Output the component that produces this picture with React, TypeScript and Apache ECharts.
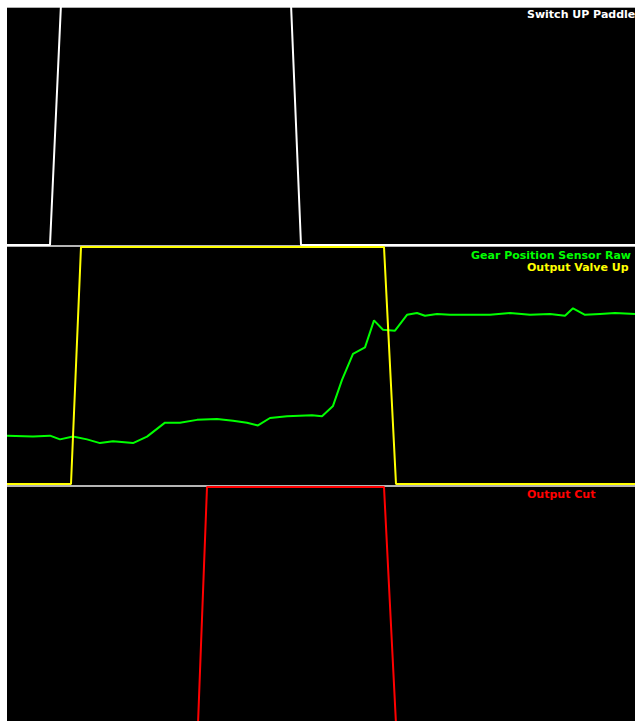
import React, { useEffect, useRef } from "react";
import * as echarts from "echarts";

// Time axis (ms from start of the capture window)
const timeRange = [0, 628];

// Switch UP Paddle (digital 0/1)
const paddleTimes = [0, 43, 54, 284, 294, 628];
const paddleValues = [0, 0, 1, 1, 0, 0];

// Output Valve Up (digital 0/1)
const valveTimes = [0, 64, 74, 377, 389, 628];
const valveValues = [0, 0, 1, 1, 0, 0];

// Output Cut (digital 0/1)
const cutTimes = [0, 191, 200, 377, 389, 628];
const cutValues = [0, 0, 1, 1, 0, 0];

// Gear Position Sensor Raw (raw counts, 0..255)
const gearTimes = [
  0, 26, 43, 53, 66, 80, 93, 106, 126, 140, 158, 173, 190, 210, 226, 240, 251,
  263, 280, 305, 315, 326, 335, 346, 358, 367, 376, 388, 400, 410, 418, 430,
  443, 463, 483, 503, 523, 543, 558, 566, 578, 593, 608, 628,
];
const gearValues = [
  52, 51, 52, 48, 51, 48, 44, 46, 44, 51, 66, 66, 69, 70, 68, 66, 63, 71, 73,
  74, 73, 84, 112, 140, 147, 176, 166, 165, 182, 184, 181, 183, 182, 182, 182,
  184, 182, 183, 181, 189, 182, 183, 184, 183,
];

const labels = [
  "Switch UP Paddle",
  "Gear Position Sensor Raw",
  "Output Valve Up",
  "Output Cut",
];

const pair = (ts: number[], vs: number[]) => ts.map((t, i) => [t, vs[i]]);

export default function App() {
  const ref = useRef<HTMLDivElement>(null);
  useEffect(() => {
    if (!ref.current) return;
    const chart = echarts.init(ref.current, undefined, { renderer: "svg" });
    const font = {
      fontFamily: "DejaVu Sans",
      fontWeight: "bold" as const,
      fontSize: 11,
      lineHeight: 11,
    };
    const hiddenX = (gi: number) => ({
      type: "value" as const,
      gridIndex: gi,
      min: timeRange[0],
      max: timeRange[1],
      show: false,
    });
    chart.setOption({
      animation: false,
      backgroundColor: "#000000",
      grid: [
        { left: 0, right: 0, top: 0, height: 238 },
        { left: 0, right: 0, top: 240, height: 237 },
        { left: 0, right: 0, top: 480, height: 234 },
      ],
      xAxis: [hiddenX(0), hiddenX(1), hiddenX(2)],
      yAxis: [
        { type: "value", gridIndex: 0, min: 0, max: 238 / 241, show: false },
        { type: "value", gridIndex: 1, min: 0, max: 1, show: false },
        { type: "value", gridIndex: 1, min: 0, max: 255, show: false },
        { type: "value", gridIndex: 2, min: 1 - 234 / 237, max: 1, show: false },
      ],
      graphic: [
        {
          type: "line",
          z: 1,
          shape: { x1: 0, y1: 0, x2: 628, y2: 0 },
          style: { stroke: "#b0b0b0", lineWidth: 2 },
        },
        {
          type: "line",
          z: 1,
          shape: { x1: 0, y1: 239, x2: 628, y2: 239 },
          style: { stroke: "#b4b4b4", lineWidth: 2 },
        },
        {
          type: "line",
          z: 1,
          shape: { x1: 0, y1: 479, x2: 628, y2: 479 },
          style: { stroke: "#b4b4b4", lineWidth: 2 },
        },
        {
          type: "text",
          z: 10,
          x: 520,
          y: 7,
          style: { text: labels[0], fill: "#ffffff", verticalAlign: "middle", ...font },
        },
        {
          type: "text",
          z: 10,
          x: 464,
          y: 248,
          style: { text: labels[1], fill: "#00ff00", verticalAlign: "middle", ...font },
        },
        {
          type: "text",
          z: 10,
          x: 520,
          y: 260,
          style: { text: labels[2], fill: "#ffff00", verticalAlign: "middle", ...font },
        },
        {
          type: "text",
          z: 10,
          x: 520,
          y: 487,
          style: { text: labels[3], fill: "#ff0000", verticalAlign: "middle", ...font },
        },
      ],
      series: [
        {
          name: labels[0],
          type: "line",
          xAxisIndex: 0,
          yAxisIndex: 0,
          data: pair(paddleTimes, paddleValues),
          symbol: "none",
          z: 3,
          lineStyle: { color: "#ffffff", width: 2 },
          silent: true,
        },
        {
          name: labels[1],
          type: "line",
          xAxisIndex: 1,
          yAxisIndex: 2,
          data: pair(gearTimes, gearValues),
          symbol: "none",
          z: 3,
          lineStyle: { color: "#00ff00", width: 2 },
          silent: true,
        },
        {
          name: labels[2],
          type: "line",
          xAxisIndex: 1,
          yAxisIndex: 1,
          data: pair(valveTimes, valveValues),
          symbol: "none",
          z: 4,
          lineStyle: { color: "#ffff00", width: 2 },
          silent: true,
        },
        {
          name: labels[3],
          type: "line",
          xAxisIndex: 2,
          yAxisIndex: 3,
          data: pair(cutTimes, cutValues),
          symbol: "none",
          z: 3,
          lineStyle: { color: "#ff0000", width: 2 },
          silent: true,
        },
      ],
    });
    return () => chart.dispose();
  }, []);
  return (
    <div
      ref={ref}
      style={{ position: "absolute", left: 7, top: 7, width: 628, height: 714 }}
    />
  );
}
